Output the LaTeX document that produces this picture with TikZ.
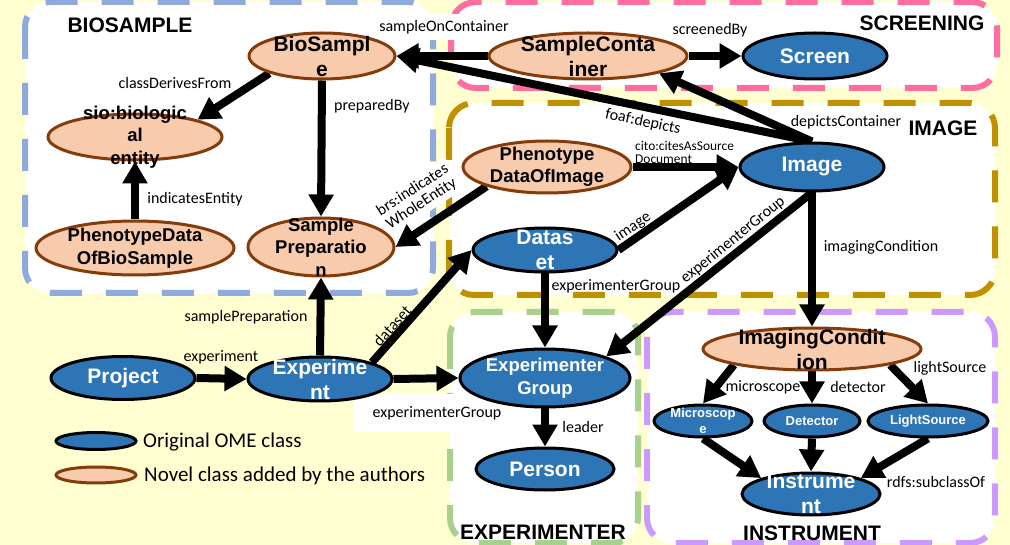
\documentclass[tikz,border=0pt]{standalone}
\usepackage{fontspec}
\setmainfont{Liberation Sans}
\newfontfamily\labfont{Carlito}
\usetikzlibrary{shapes.geometric,arrows.meta}

\definecolor{omeblue}{HTML}{2E75B6}
\definecolor{novpeach}{HTML}{F8CBAD}
\definecolor{novbrown}{HTML}{843C0C}
\definecolor{bgyellow}{HTML}{FFFFD2}
\definecolor{bsblue}{HTML}{8FAADC}
\definecolor{scpink}{HTML}{FF6E9E}
\definecolor{imgold}{HTML}{BF9000}
\definecolor{expgreen}{HTML}{A9D18E}
\definecolor{inspurple}{HTML}{CC99FF}

\pgfdeclarelayer{back}
\pgfdeclarelayer{mid}
\pgfsetlayers{back,mid,main}

\begin{document}
\begin{tikzpicture}[x=1pt,y=-1pt,
	grp/.style={line width=6pt,dash pattern=on 32pt off 24pt,rounded corners=25pt,fill=white},
	cls/.style={ellipse,line width=3pt,inner sep=0pt},
	ome/.style={cls,draw=black,fill=omeblue},
	nov/.style={cls,draw=novbrown,fill=novpeach},
	tb/.style={align=center,inner sep=0pt,font=\bfseries\fontsize{21}{25}\selectfont},
	tm/.style={tb,font=\bfseries\fontsize{18.5}{22.5}\selectfont},
	ts/.style={tb,font=\bfseries\fontsize{13}{16}\selectfont},
	ttl/.style={inner sep=0pt,font=\bfseries\fontsize{21}{25}\selectfont},
	elab/.style={inner sep=1pt,font=\labfont\fontsize{16}{19}\selectfont},
	wlab/.style={elab,fill=white,inner sep=6pt},
	arr/.style={line width=8pt,-{Triangle[length=22pt,width=24pt]}}]
	\useasboundingbox (0,0) rectangle (1010,545);
	\begin{pgfonlayer}{back}
		\fill[bgyellow] (0,0) rectangle (1010,545);
		% groups
		\foreach \c/\xa/\ya/\xb/\yb in {bsblue/25/2/433/293, scpink/451/2/997/88,
				imgold/449/103/995/295, expgreen/450/312/638/543, inspurple/647/312/995/543}
			\draw[grp,draw=\c] (\xa,\ya) rectangle (\xb,\yb);
		\node[ttl] (t-bio) at (130,25) {BIOSAMPLE};
		\node[ttl] (t-scr) at (922,23) {SCREENING};
		\node[ttl] (t-img) at (943,128) {IMAGE};
		\node[ttl] (t-exp) at (543,532) {EXPERIMENTER};
		\node[ttl] (t-ins) at (812,533) {INSTRUMENT};
		% edge labels
		\node[wlab] (l-soc) at (444,27) {sampleOnContainer};
		\node[elab] (l-cdf) at (175,83) {classDerivesFrom};
		\node[elab,anchor=west] (l-pb) at (333,106) {preparedBy};
		\node[elab] (l-ie) at (195,199) {indicatesEntity};
		\node[wlab,align=center,rotate=33,inner sep=4pt,font=\labfont\fontsize{16}{16}\selectfont] (l-brs) at (417,197) {brs:indicates\\WholeEntity};
		\node[elab] (l-sb) at (710,30) {screenedBy};
		\node[wlab,rotate=-12,inner sep=4pt] (l-foaf) at (643,122) {foaf:depicts};
		\node[elab] (l-dc) at (846,122) {depictsContainer};
		\node[elab,anchor=west,align=left,font=\labfont\fontsize{13.4}{13}\selectfont] (l-cito) at (634,152) {cito:citesAsSource\\Document};
		\node[elab,rotate=34] (l-img) at (633,227) {image};
		\node[elab,rotate=39] (l-eg2) at (733,240) {experimenterGroup};
		\node[elab] (l-ic) at (881,247) {imagingCondition};
		\node[elab] (l-eg3) at (616,286) {experimenterGroup};
		\node[elab] (l-sp) at (246,317) {samplePreparation};
		\node[elab] (l-exp) at (221,357) {experiment};
		\node[elab,rotate=48] (l-ds) at (392,326) {dataset};
		\node[elab,fill=white,inner xsep=20pt,inner ysep=12pt] (l-eg1) at (437,413) {experimenterGroup};
		\node[elab] (l-lead) at (583,427) {leader};
		\node[elab] (l-mic) at (763,387) {microscope};
		\node[elab] (l-det) at (858,387) {detector};
		\node[elab] (l-ls) at (950,368) {lightSource};
		\node[elab] (l-sub) at (936,482) {rdfs:subclassOf};
	\end{pgfonlayer}

	% classes
	\node[nov,minimum width=146pt,minimum height=46pt,label={[tb]center:{BioSampl\\e}}] (bio) at (322,56) {};
	\node[nov,minimum width=198pt,minimum height=46pt,label={[tb]center:{SampleConta\\iner}}] (sc) at (588,56) {};
	\node[ome,minimum width=144pt,minimum height=46pt,label={[tb,white]center:{Screen}}] (scr) at (815,56) {};
	\node[nov,minimum width=174pt,minimum height=46pt,label={[tm]center:{sio:biologic\\al\\entity}}] (sio) at (135,137) {};
	\node[nov,minimum width=198pt,minimum height=54pt,label={[tm]center:{PhenotypeData\\OfBioSample}}] (pdb) at (135,248) {};
	\node[nov,minimum width=146pt,minimum height=58pt,label={[tm]center:{Sample\\Preparatio\\n}}] (prep) at (321,247) {};
	\node[nov,minimum width=168pt,minimum height=52pt,label={[tm]center:{Phenotype\\DataOfImage}}] (pdi) at (547,167) {};
	\node[ome,minimum width=144pt,minimum height=48pt,label={[tb,white]center:{Image}}] (img) at (812,167) {};
	\node[ome,minimum width=144pt,minimum height=44pt,label={[tb,white]center:{Datas\\et}}] (ds) at (545,250) {};
	\node[ome,minimum width=144pt,minimum height=43pt,label={[tb,white]center:{Project}}] (proj) at (123,378) {};
	\node[ome,minimum width=144pt,minimum height=44pt,label={[tb,white]center:{Experime\\nt}}] (exp) at (320,379) {};
	\node[ome,minimum width=170pt,minimum height=58pt,label={[tm,white]center:{Experimenter\\Group}}] (eg) at (545,378) {};
	\node[ome,minimum width=138pt,minimum height=42pt,label={[tb,white]center:{Person}}] (per) at (545,469) {};
	\node[nov,minimum width=218pt,minimum height=42pt,label={[tb]center:{ImagingCondit\\ion}}] (ic) at (812,349) {};
	\node[ome,minimum width=98pt,minimum height=32pt,label={[ts,white]center:{Microscop\\e}}] (mic) at (703,421) {};
	\node[ome,minimum width=96pt,minimum height=32pt,label={[ts,white]center:{Detector}}] (det) at (812,421) {};
	\node[ome,minimum width=120pt,minimum height=32pt,label={[ts,white]center:{LightSource}}] (ls) at (928,421) {};
	\node[ome,minimum width=138pt,minimum height=42pt,label={[tb,white]center:{Instrume\\nt}}] (ins) at (811,494) {};

	% legend
	\node[ome,minimum width=80pt,minimum height=17pt] (lg-ome) at (96,441) {};
	\node[nov,minimum width=80pt,minimum height=16pt] (lg-nov) at (96,475) {};
	\node[anchor=west,inner sep=0pt,font=\labfont\fontsize{21}{25}\selectfont] (lg-ome-t) at (143,442) {Original OME class};
	\node[anchor=west,inner sep=0pt,font=\labfont\fontsize{21}{25}\selectfont] (lg-nov-t) at (144,476) {Novel class added by the authors};

	\begin{pgfonlayer}{mid}
		\foreach \a/\b in {sc.west/bio.east, img.north/bio.east, img.north/sc.south east,
				sc.east/scr.west, bio.south west/sio.north east, bio.south/prep.north,
				pdb.north/sio.south, pdi.south west/prep.east, pdi.east/img.west,
				ds.east/img.west, img.south/ic.north, img.south/eg.north east,
				ds.south/eg.north, proj.east/exp.west, exp.north/prep.south,
				exp.north east/ds.west, exp.east/eg.west, eg.south/per.north,
				ic.south west/mic.north, ic.south/det.north, ic.south east/ls.north,
				mic.south/ins.north west, det.south/ins.north, ls.south/ins.north east}
			\draw[arr] (\a) -- (\b);
	\end{pgfonlayer}
\end{tikzpicture}
\end{document}
